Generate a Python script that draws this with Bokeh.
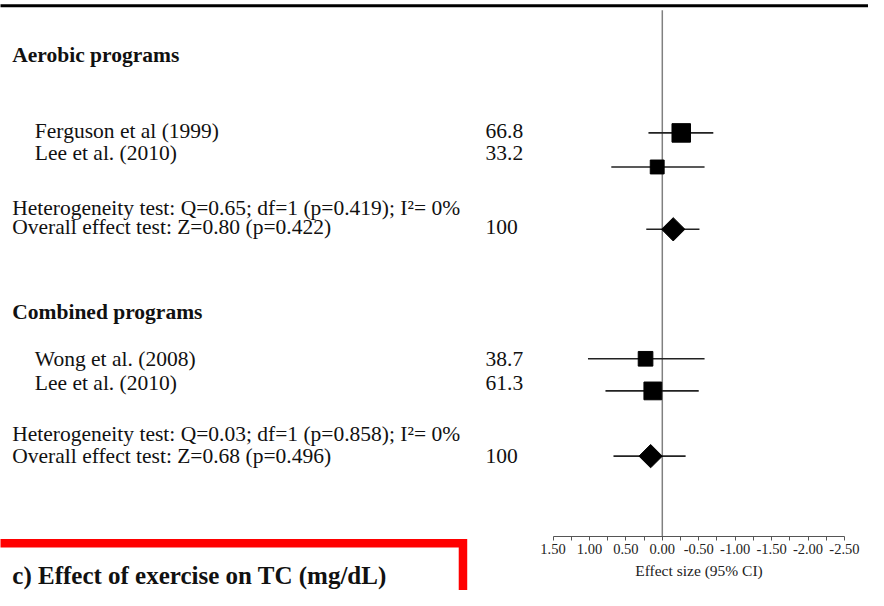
import numpy as np
from bokeh.plotting import figure
from bokeh.models import Range1d, FixedTicker, NumeralTickFormatter, LinearAxis
from bokeh.core.properties import value
from bokeh.embed import file_html
from bokeh.resources import INLINE

# ---------------- data ----------------
group_names = ["Aerobic programs", "Combined programs"]
study_names = ["Ferguson et al (1999)", "Lee et al. (2010)", "Wong et al. (2008)", "Lee et al. (2010)"]
study_effect = [-0.26, 0.07, 0.23, 0.13]
study_ci_low = [-0.70, -0.58, -0.58, -0.50]
study_ci_high = [0.19, 0.70, 1.02, 0.78]
study_weight = ["66.8", "33.2", "38.7", "61.3"]
study_weight_num = [66.8, 33.2, 38.7, 61.3]
pooled_effect = [-0.15, 0.16]
pooled_ci_low = [-0.51, -0.32]
pooled_ci_high = [0.22, 0.67]
pooled_weight = ["100", "100"]
heterogeneity_text = ["Heterogeneity test: Q=0.65; df=1 (p=0.419); I\u00b2= 0%",
                      "Heterogeneity test: Q=0.03; df=1 (p=0.858); I\u00b2= 0%"]
overall_text = ["Overall effect test: Z=0.80 (p=0.422)",
                "Overall effect test: Z=0.68 (p=0.496)"]
tick_values = [1.5, 1.0, 0.5, 0.0, -0.5, -1.0, -1.5, -2.0, -2.5]
minor_tick_values = [1.25, 0.75, 0.25, -0.25, -0.75, -1.25, -1.75, -2.25]
axis_title = "Effect size (95% CI)"
chart_title = "c) Effect of exercise on TC (mg/dL)"

# ---------------- layout (reference pixel coordinates) ----------------
REF_W, REF_H = 884, 606
W, H = 868, 590
SX = W / REF_W
ZERO, PPU = 674.0, 74.2   # zero line position and pixels per effect unit (reference)
AXIS_Y = 551

header_y = [56, 320]
study_text_y = [134, 157, 368, 393]
study_mark_y = [136, 171, 368, 401]
het_y = [213, 445]
overall_y = [233, 468]
diamond_y = [235, 468]

FONT = value("Liberation Serif")
BODY = "21.5px"
INK = "#111111"

p = figure(width=W, height=H, x_range=Range1d(0, REF_W), y_range=Range1d(REF_H, 0),
           x_axis_type=None, y_axis_type=None, min_border=0,
           toolbar_location=None, output_backend="svg", outline_line_color=None,
           background_fill_color="white", border_fill_color="white")
p.extra_x_ranges = {"es": Range1d(ZERO / PPU, (ZERO - REF_W) / PPU)}

# rule at the top and zero line
p.segment(x0=[-5], y0=[5.5], x1=[REF_W + 5], y1=[5.5], line_color="black", line_width=3)
p.segment(x0=[0], y0=[10], x1=[0], y1=[AXIS_Y], x_range_name="es",
          line_color="#808080", line_width=1.5)

# study whiskers and squares
p.segment(x0=study_ci_low, y0=study_mark_y, x1=study_ci_high, y1=study_mark_y,
          x_range_name="es", line_color="#222222", line_width=1.6)
sizes = [(9.5 + 0.14 * w) * SX for w in study_weight_num]
p.scatter(x=study_effect, y=study_mark_y, size=sizes, marker="square", x_range_name="es",
          fill_color="black", line_color="black")

# pooled whiskers and diamonds
p.segment(x0=pooled_ci_low, y0=diamond_y, x1=pooled_ci_high, y1=diamond_y,
          x_range_name="es", line_color="#222222", line_width=1.6)
p.scatter(x=pooled_effect, y=diamond_y, size=16.5, marker="square", angle=np.pi / 4,
          x_range_name="es", fill_color="black", line_color="black")

# texts
p.text(x=[12, 12], y=header_y, text=group_names, text_font=FONT, text_font_size=BODY,
       text_font_style="bold", text_baseline="middle", text_color=INK)
p.text(x=[35] * 4, y=study_text_y, text=study_names, text_font=FONT, text_font_size=BODY,
       text_baseline="middle", text_color=INK)
p.text(x=[494] * 4, y=study_text_y, text=study_weight, text_font=FONT, text_font_size=BODY,
       text_baseline="middle", text_color=INK)
p.text(x=[12, 12], y=het_y, text=heterogeneity_text, text_font=FONT, text_font_size=BODY,
       text_baseline="middle", text_color=INK)
p.text(x=[12, 12], y=overall_y, text=overall_text, text_font=FONT, text_font_size=BODY,
       text_baseline="middle", text_color=INK)
p.text(x=[494, 494], y=overall_y, text=pooled_weight, text_font=FONT, text_font_size=BODY,
       text_baseline="middle", text_color=INK)

# red frame and panel title
p.line(x=[-20, 471, 471], y=[557.5, 557.5, 640], line_color="#ff0000", line_width=8.5,
       line_join="miter")
p.text(x=[12], y=[591], text=[chart_title], text_font=FONT, text_font_size="25px",
       text_font_style="bold", text_baseline="middle", text_color=INK)

# effect-size axis, drawn at a fixed location inside the frame
ax = LinearAxis(x_range_name="es", fixed_location=AXIS_Y)
ax.ticker = FixedTicker(ticks=tick_values, minor_ticks=minor_tick_values)
ax.formatter = NumeralTickFormatter(format="0.00")
ax.bounds = (-2.5, 1.5)
ax.major_tick_in = 0
ax.major_tick_out = 4
ax.minor_tick_in = 0
ax.minor_tick_out = 4
ax.axis_line_color = "#555555"
ax.major_tick_line_color = "#555555"
ax.minor_tick_line_color = "#555555"
ax.major_label_text_font = "Liberation Serif"
ax.major_label_text_font_size = "14.5px"
ax.major_label_text_color = "#222222"
ax.major_label_standoff = 3
ax.axis_label = axis_title
ax.axis_label_text_font = "Liberation Serif"
ax.axis_label_text_font_style = "normal"
ax.axis_label_text_font_size = "15.5px"
ax.axis_label_text_color = "#222222"
ax.axis_label_standoff = 5
p.add_layout(ax, "below")

open("out.html", "w").write(file_html(p, INLINE))
